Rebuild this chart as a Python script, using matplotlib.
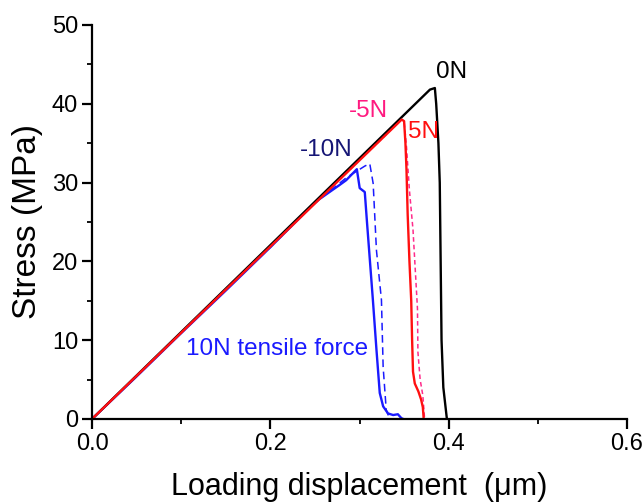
import matplotlib
matplotlib.use("Agg")
import matplotlib.pyplot as plt
from matplotlib.ticker import MultipleLocator

plt.rcParams['font.family'] = ['Liberation Sans', 'DejaVu Sans']

# 0N (black)
x_0n = [0.0, 0.379, 0.3845, 0.386, 0.3885, 0.390, 0.391, 0.392, 0.394, 0.397, 0.398]
y_0n = [0.0, 41.8, 42.0, 40.0, 35.0, 30.0, 20.0, 10.0, 4.0, 1.0, 0.0]

# 5N (red)
x_5n = [0.0, 0.3473, 0.350, 0.3515, 0.3527, 0.354, 0.356, 0.358, 0.359, 0.360, 0.362, 0.366, 0.369, 0.371, 0.372]
y_5n = [0.0, 38.0, 37.8, 35.0, 31.6, 26.0, 20.0, 15.0, 10.0, 6.0, 4.5, 3.5, 2.5, 1.5, 0.0]

# -5N (pink dashed)
x_m5n = [0.0, 0.3473, 0.350, 0.3527, 0.356, 0.360, 0.363, 0.365, 0.3655, 0.368, 0.371, 0.373]
y_m5n = [0.0, 38.0, 37.8, 34.5, 29.0, 24.0, 18.0, 14.0, 8.5, 5.0, 3.0, 0.0]

# 10N tensile force (blue solid)
x_10n = [0.0, 0.05, 0.10, 0.15, 0.20, 0.2478, 0.255, 0.2777, 0.285, 0.297,
         0.3002, 0.3059, 0.3085, 0.315, 0.319, 0.3227, 0.3265, 0.332, 0.3377, 0.343, 0.347, 0.349]
y_10n = [0.0, 5.4, 10.9, 16.3, 21.8, 27.2, 27.9, 29.7, 30.3, 31.7,
         29.3, 28.8, 24.8, 15.1, 8.8, 3.3, 1.6, 0.7, 0.5, 0.6, 0.1, 0.0]

# -10N (blue dashed)
x_m10n = [0.0, 0.20, 0.2478, 0.285, 0.306, 0.3115, 0.3153, 0.319, 0.3246, 0.3265, 0.330, 0.334]
y_m10n = [0.0, 21.8, 27.2, 30.6, 32.1, 32.4, 29.9, 21.4, 15.1, 6.6, 1.1, 0.0]

fig = plt.figure(figsize=(6.44, 5.04), dpi=100)
ax = fig.add_axes([0.1429, 0.1687, 0.8307, 0.7817])

lw = 1.7
ax.plot(x_m10n, y_m10n, color='#1a1aff', lw=1.1, ls=(0, (5, 3)))
ax.plot(x_10n, y_10n, color='#1a1aff', lw=lw)
ax.plot(x_0n, y_0n, color='black', lw=lw)
ax.plot(x_m5n, y_m5n, color='#ff2a8a', lw=1.1, ls=(0, (3, 2)))
ax.plot(x_5n, y_5n, color='#ff1010', lw=lw)

ax.set_xlim(0, 0.6)
ax.set_ylim(0, 50)
ax.xaxis.set_major_locator(MultipleLocator(0.2))
ax.xaxis.set_minor_locator(MultipleLocator(0.1))
ax.yaxis.set_major_locator(MultipleLocator(10))
ax.yaxis.set_minor_locator(MultipleLocator(5))
ax.set_xticks([0.0, 0.2, 0.4, 0.6])
ax.set_xticklabels(['0.0', '0.2', '0.4', '0.6'])

for s in ['top', 'right']:
    ax.spines[s].set_visible(False)
for s in ['left', 'bottom']:
    ax.spines[s].set_linewidth(1.6)

ax.tick_params(which='major', direction='out', length=7, width=1.6, labelsize=17, pad=3)
ax.tick_params(which='minor', direction='out', length=3.5, width=1.3)

ax.set_xlabel('Loading displacement  (\u03bcm)', fontsize=22)
ax.set_ylabel('Stress (MPa)', fontsize=24)
ax.xaxis.set_label_coords(0.5, -0.135)
ax.yaxis.set_label_coords(-0.0914, 0.5)

fs = 17.5
ax.text(0.4036, 44.0, '0N', color='black', fontsize=fs, ha='center', va='center')
ax.text(0.310, 39.1, '-5N', color='#ff1a80', fontsize=fs, ha='center', va='center')
ax.text(0.3716, 36.4, '5N', color='#ff1010', fontsize=fs, ha='center', va='center')
ax.text(0.2628, 34.1, '-10N', color='#151575', fontsize=fs, ha='center', va='center')
ax.text(0.208, 8.9, '10N tensile force', color='#1a1aff', fontsize=fs, ha='center', va='center')

fig.savefig('out.png', dpi=100)
